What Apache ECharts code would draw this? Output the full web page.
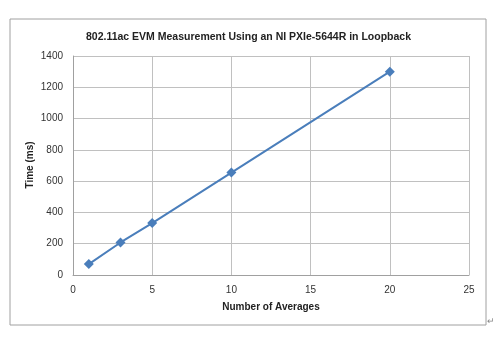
<!DOCTYPE html>
<html><head><meta charset="utf-8">
<script src="https://cdn.jsdelivr.net/npm/echarts@6/dist/echarts.min.js"></script>
<style>html,body{margin:0;padding:0;background:#fff}#c{width:497px;height:341px}</style>
</head><body><div id="c"></div>
<script>
const averages = [1, 3, 5, 10, 20];
const timeMs = [70, 208, 332, 655, 1300];
const titleText = '802.11ac EVM Measurement Using an NI PXIe-5644R in Loopback';
const xName = 'Number of Averages';
const yName = 'Time (ms)';

const chart = echarts.init(document.getElementById('c'), null, {renderer: 'canvas'});
const font = 'Liberation Sans';
chart.setOption({
  animation: false,
  title: {
    text: titleText, left: 'center', top: 27,
    textStyle: {fontFamily: font, fontSize: 10.5, fontWeight: 'bold', color: '#222'}
  },
  graphic: [
    {type: 'rect', shape: {x: 10, y: 19, width: 476, height: 306}, style: {fill: 'none', stroke: '#a0a0a0', lineWidth: 1}},
    {type: 'text', left: 487, top: 317, style: {text: '↵', font: '9px ' + font, fill: '#888'}},
    {type: 'text', x: 30, y: 165, rotation: Math.PI / 2,
     style: {text: yName, font: 'bold 10px ' + font, fill: '#222', align: 'center', verticalAlign: 'middle'}}
  ],
  grid: {left: 73, right: 28, top: 56, bottom: 66},
  xAxis: {
    type: 'value', min: 0, max: 25, interval: 5,
    name: xName, nameLocation: 'middle', nameGap: 27,
    nameTextStyle: {fontFamily: font, fontSize: 10, fontWeight: 'bold', color: '#222'},
    axisLine: {show: true, lineStyle: {color: '#a0a0a0'}},
    axisTick: {show: false},
    axisLabel: {fontFamily: font, fontSize: 10, color: '#333', margin: 10},
    splitLine: {show: true, lineStyle: {color: '#c0c0c0'}}
  },
  yAxis: {
    type: 'value', min: 0, max: 1400, interval: 200,
    axisLine: {show: true, lineStyle: {color: '#a0a0a0'}},
    axisTick: {show: false},
    axisLabel: {fontFamily: font, fontSize: 10, color: '#333', margin: 10, formatter: v => String(v)},
    splitLine: {show: true, lineStyle: {color: '#c0c0c0'}}
  },
  series: [{
    type: 'line',
    data: averages.map((x, i) => [x, timeMs[i]]),
    symbol: 'diamond', symbolSize: 10,
    lineStyle: {color: '#4a7ebb', width: 2},
    itemStyle: {color: '#4a7ebb'}
  }]
});
</script></body></html>
